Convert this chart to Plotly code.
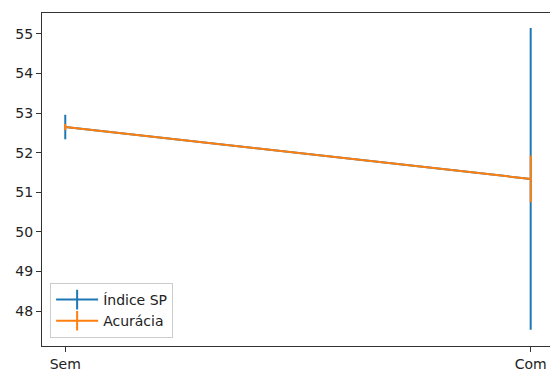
import plotly.graph_objects as go

# Condições comparadas e médias com desvios de cada métrica
condicoes = ["Sem", "Com"]
indice_sp = [52.65, 51.34]
indice_sp_err = [0.31, 3.81]
acuracia = [52.65, 51.34]
acuracia_err = [0.08, 0.59]

AZUL = "#1f77b4"
LARANJA = "#ff7f0e"
FONTE = dict(family="DejaVu Sans", size=14, color="#222222")

x_pos = list(range(len(condicoes)))

fig = go.Figure()

series = [
    ("Índice SP", indice_sp, indice_sp_err, AZUL),
    ("Acurácia", acuracia, acuracia_err, LARANJA),
]

for nome, valores, erros, cor in series:
    fig.add_trace(go.Scatter(
        x=x_pos, y=valores, mode="lines",
        line=dict(color=cor, width=2),
        error_y=dict(type="data", array=erros, visible=True,
                     color=cor, thickness=2, width=0),
        showlegend=False, hoverinfo="skip",
    ))

# Entradas de legenda com símbolo em cruz (linha + barra de erro)
for nome, valores, erros, cor in series:
    fig.add_trace(go.Scatter(
        x=[None], y=[None], mode="lines+markers", name=nome,
        line=dict(color=cor, width=2),
        marker=dict(symbol="line-ns-open", size=14,
                    line=dict(color=cor, width=2)),
    ))

fig.update_layout(
    width=550, height=374,
    margin=dict(l=42, r=0, t=13, b=28),
    plot_bgcolor="white", paper_bgcolor="white",
    font=FONTE,
    legend=dict(
        x=0.016, y=0.024, xanchor="left", yanchor="bottom",
        bgcolor="rgba(255,255,255,0.8)", bordercolor="#cccccc",
        borderwidth=1, font=FONTE, itemwidth=42,
    ),
)

fig.update_xaxes(
    range=[-0.05, 1.0415],
    tickvals=x_pos, ticktext=condicoes,
    showgrid=False, zeroline=False,
    showline=True, linecolor="#333333", linewidth=1, mirror=True,
    ticks="outside", ticklen=5, tickcolor="#333333",
)
fig.update_yaxes(
    range=[47.12, 55.53],
    tickvals=[48, 49, 50, 51, 52, 53, 54, 55],
    showgrid=False, zeroline=False,
    showline=True, linecolor="#333333", linewidth=1, mirror=False,
    ticks="outside", ticklen=5, tickcolor="#333333",
)

fig.write_html("out.html")
